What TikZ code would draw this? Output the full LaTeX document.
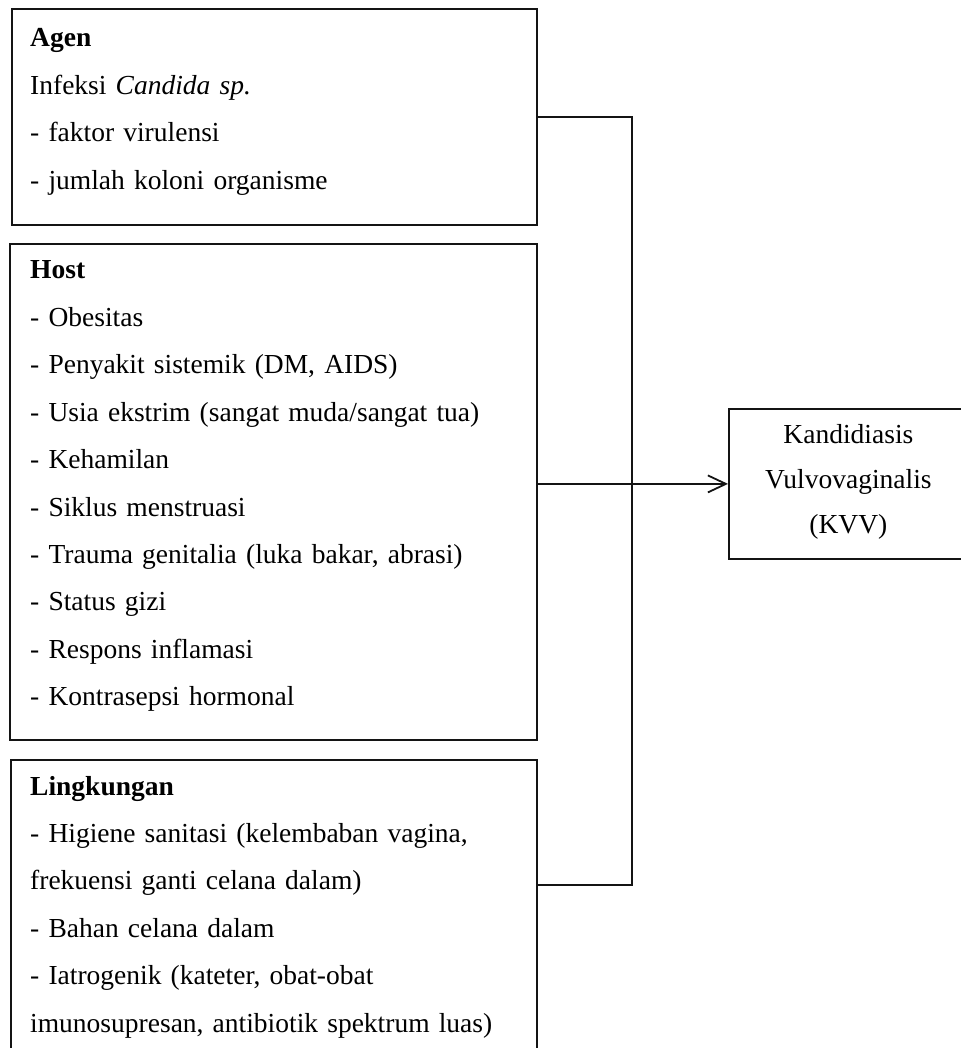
\documentclass[tikz,border=0pt]{standalone}
\usepackage{fontspec}
\setmainfont{Liberation Serif}
\usetikzlibrary{arrows.meta,positioning,calc}
\definecolor{ink}{RGB}{20,20,20}
\tikzset{
  frame/.style={draw=ink,line width=1.8pt,inner sep=0pt,anchor=north west},
  txt/.style={anchor=base west,inner sep=0pt,text width=520pt,align=left,
              text=black,font=\fontsize{27.5}{47.4}\selectfont},
  ctr/.style={anchor=center,inner sep=0pt,align=center,
              text=black,font=\fontsize{27.5}{45}\selectfont},
  link/.style={draw=ink,line width=1.8pt},
  ar/.style={link,-{Straight Barb[length=18pt,width=17pt,line width=1.8pt]}},
}

\begin{document}
\begin{tikzpicture}[x=1pt,y=-1pt]
  \useasboundingbox (0,0) rectangle (960,1048);
  % the three groups of factors
  \node[frame,minimum width=525pt,minimum height=216pt] (agen) at (11,8) {};
  \node[txt] (agentxt) at (30,47)
    {\textbf{Agen}\\Infeksi \textit{Candida sp.}\\- faktor virulensi\\- jumlah koloni organisme};
  \node[frame,minimum width=527pt,minimum height=496pt] (host) at (9,243) {};
  \node[txt] (hosttxt) at (30,279)
    {\textbf{Host}\\- Obesitas\\- Penyakit sistemik (DM, AIDS)\\- Usia ekstrim (sangat muda/sangat tua)\\
     - Kehamilan\\- Siklus menstruasi\\- Trauma genitalia (luka bakar, abrasi)\\- Status gizi\\
     - Respons inflamasi\\- Kontrasepsi hormonal};
  \node[frame,minimum width=526pt,minimum height=300pt] (lingk) at (10,759) {};
  \node[txt] (lingktxt) at (30,795)
    {\textbf{Lingkungan}\\- Higiene sanitasi (kelembaban vagina,\\frekuensi ganti celana dalam)\\
     - Bahan celana dalam\\- Iatrogenik (kateter, obat-obat\\imunosupresan, antibiotik spektrum luas)};
  % outcome
  \node[frame,minimum width=239pt,minimum height=150pt] (kvv) at (728,408) {};
  \node[ctr] (kvvtxt) at ($(kvv.center)+(0,-2)$) {Kandidiasis\\Vulvovaginalis\\(KVV)};
  % connectors
  \coordinate (lkport) at ($(lingk.north east)+(0,126)$);
  \draw[link] (agen.east) -- ++(94,0) |- (lkport);
  \draw[ar] (kvv.west -| host.east) -- (kvv.west);
\end{tikzpicture}
\end{document}
